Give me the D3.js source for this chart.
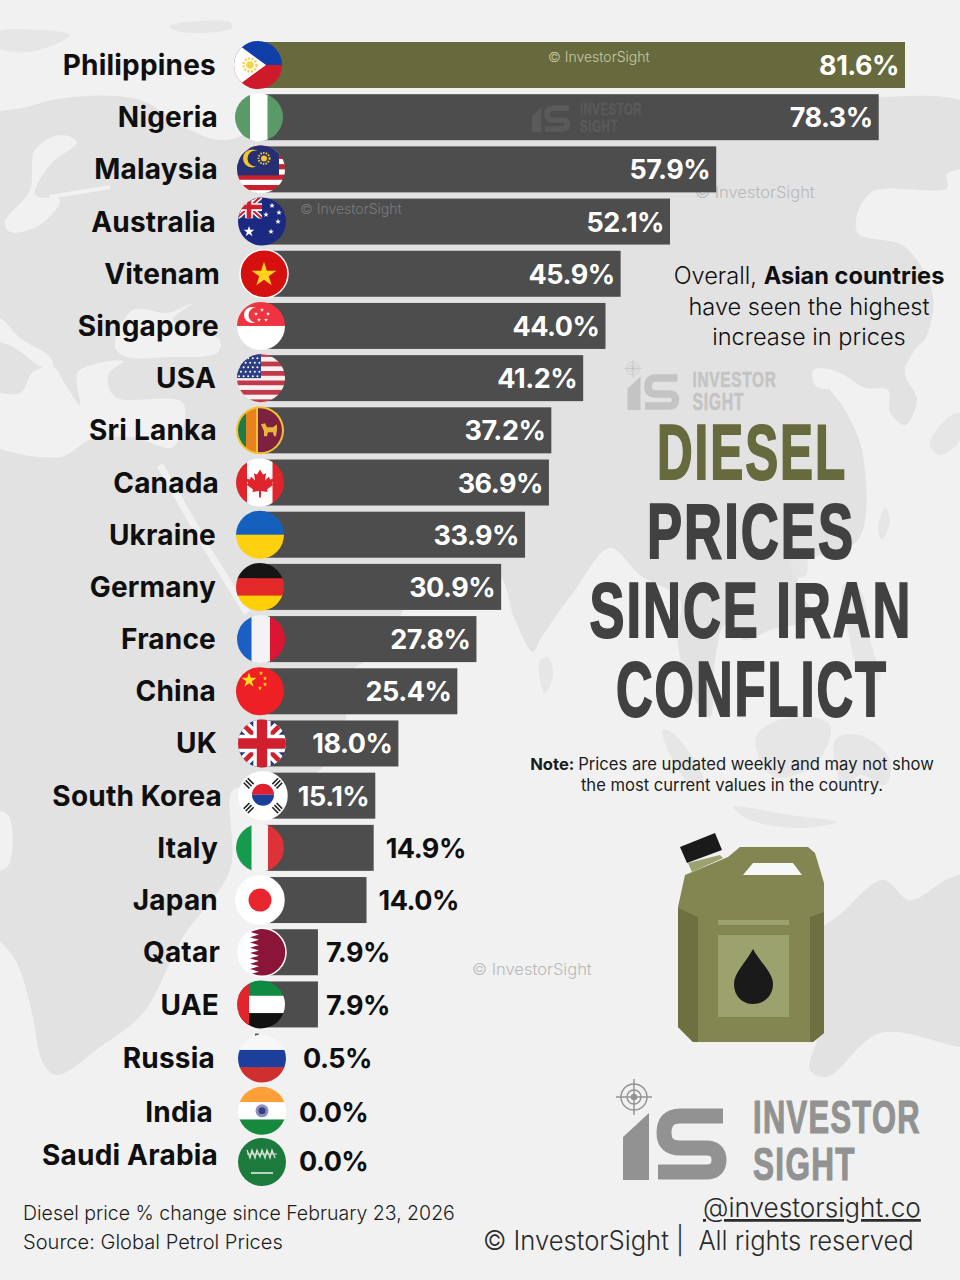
<!DOCTYPE html>
<html>
<head>
<meta charset="utf-8">
<title>Diesel prices since Iran conflict</title>
<script src="https://cdn.jsdelivr.net/npm/d3@7"></script>
<style>
  html, body { margin: 0; padding: 0; background: #f1f1f1; }
  svg { display: block; }
  text { font-family: Inter, "Noto Sans", sans-serif; }
</style>
</head>
<body>
<script>
// values
var countries = ["Philippines", "Nigeria", "Malaysia", "Australia", "Vitenam", "Singapore", "USA", "Sri Lanka",
  "Canada", "Ukraine", "Germany", "France", "China", "UK", "South Korea", "Italy", "Japan", "Qatar", "UAE",
  "Russia", "India", "Saudi Arabia"];
var changes = [81.6, 78.3, 57.9, 52.1, 45.9, 44.0, 41.2, 37.2, 36.9, 33.9, 30.9, 27.8, 25.4, 18.0, 15.1, 14.9,
  14.0, 7.9, 7.9, 0.5, 0.0, 0.0];

// the source lines up by hand, so rows are a few px off the grid: [dx, dy]
var flagNudge = {"Philippines": [-3, 0], "Nigeria": [-2, 0], "Australia": [1, 0], "Vitenam": [3, 0], "Sri Lanka": [-1, 0],
  "Canada": [-1, 0], "Ukraine": [-1, 0], "Germany": [-1, 0], "China": [-1, 0], "UK": [1, 0], "South Korea": [2, 0],
  "Italy": [-1, 0], "Japan": [-1, 0], "Qatar": [1, 0], "Russia": [1, 2], "India": [1, 2], "Saudi Arabia": [1, 1]};
var labelNudge = {"Philippines": [-2, 0], "Australia": [-2, 0], "Vitenam": [2, 0], "Singapore": [1, 0], "USA": [-2, 0],
  "Sri Lanka": [-1, 0], "Canada": [1, 0], "Ukraine": [-2, 0], "Germany": [-2, 0], "France": [-2, 0], "China": [-2, 0],
  "UK": [-1, 0], "South Korea": [4, 0], "Qatar": [2, 0], "UAE": [1, 1], "Russia": [-3, 1], "India": [-5, 3], "Saudi Arabia": [0, -6]};

var width = 960, height = 1280;
var barColor = "#4d4d4d", topColor = "#666a3c", darkText = "#414141", ink = "#0f0f0f";
var landColor = "#e2e2e2", seaColor = "#f1f1f1";
var narrowFont = "'Liberation Sans Narrow', 'Liberation Sans'";

var x = d3.scaleLinear().domain([0, 81.6]).range([255, 905]);
var y = d3.scalePoint().domain(countries).range([65, 1161]);
var barH = 46, flagX = 261, flagR = 24;

var svg = d3.select("body").append("svg")
  .attr("width", width)
  .attr("height", height);
svg.append("rect").attr("width", width).attr("height", height).attr("fill", seaColor);

// squeeze or stretch a text to a measured width, keeping it real text
function fit(t, px, py, len, anchorMid) {
  var k = len / t.node().getComputedTextLength();
  t.attr("text-anchor", anchorMid ? "middle" : "start")
    .attr("transform", "translate(" + px + "," + py + ") scale(" + k + ",1)");
  return t;
}

// ---- world map backdrop, traced roughly
var blob = d3.line().curve(d3.curveCatmullRomClosed.alpha(0.5));
var back = svg.append("g");
var land = [
  [[-20, 125], [27, 107], [73, 97], [140, 100], [190, 130], [225, 140], [300, 110], [450, 100], [600, 110], [740, 100], [850, 100],
   [880, 97], [980, 112], [980, 340], [950, 335], [925, 340], [905, 372], [917, 400], [905, 425], [890, 412], [888, 390], [865, 388],
   [838, 372], [815, 372], [830, 390], [845, 410], [863, 455], [858, 540], [803, 563], [798, 585], [812, 617], [770, 630], [745, 640],
   [725, 625], [715, 660], [710, 717], [690, 690], [677, 637], [680, 600], [640, 575], [610, 548], [575, 590], [540, 640], [533, 652],
   [515, 620], [497, 573], [430, 570], [380, 650], [300, 700], [345, 710], [320, 770], [260, 790], [233, 790], [230, 870], [183, 937],
   [143, 1013], [100, 1047], [57, 1075], [43, 1063], [32, 1013], [17, 963], [-20, 907]],
  // australia
  [[780, 960], [837, 917], [883, 880], [910, 900], [950, 878], [990, 870], [990, 1050], [960, 1047], [880, 1033], [827, 1077], [810, 1070], [820, 1020]]
];
var seas = [
  // mediterranean
  [[-20, 393], [20, 393], [33, 372], [53, 367], [67, 387], [80, 405], [78, 372], [123, 361], [108, 375], [115, 397], [183, 403], [173, 447], [133, 437], [90, 440], [60, 457], [-20, 437]],
  // adriatic
  [[-20, 316], [0, 318], [20, 338], [50, 357], [53, 367], [40, 366], [15, 348], [-20, 332]],
  // black sea
  [[115, 347], [133, 310], [167, 313], [193, 303], [173, 320], [220, 340], [217, 353], [167, 357], [127, 357]],
  // baltic
  [[10, 232], [40, 225], [60, 200], [35, 195], [50, 165], [77, 142], [60, 135], [35, 150], [30, 190], [5, 222]],
  // pacific side
  [[870, 193], [947, 188], [947, 174], [980, 174], [980, 420], [917, 378], [905, 370], [925, 340], [933, 296], [905, 247], [857, 232]],
  // bohai
  [[813, 370], [836, 372], [832, 388], [816, 386]],
  // west africa notch
  [[-10, 813], [8, 815], [8, 866], [-10, 870]]
];
var isles = [
  [[0, 32], [40, 30], [70, 35], [40, 50], [15, 52], [0, 48]],
  [[170, 26], [230, 22], [232, 28], [180, 32]],
  [[540, 660], [548, 657], [553, 675], [545, 693], [540, 680]],
  [[885, 508], [890, 520], [882, 540], [878, 528]],
  [[792, 560], [806, 558], [806, 575], [795, 577]],
  [[930, 445], [945, 420], [960, 413], [960, 440], [940, 455]],
  [[843, 585], [860, 590], [870, 640], [880, 680], [860, 670], [848, 630]],
  [[757, 735], [790, 717], [830, 725], [815, 765], [775, 777], [760, 760]],
  [[663, 730], [675, 735], [703, 780], [690, 783], [670, 755]],
  [[733, 807], [790, 815], [837, 822], [800, 828], [750, 820]],
  [[835, 740], [860, 735], [890, 760], [885, 785], [860, 775], [845, 790]]
];
back.selectAll(".land").data(land).enter().append("path")
  .attr("class", "land").attr("d", blob).attr("fill", landColor);
back.selectAll(".sea").data(seas).enter().append("path")
  .attr("class", "sea").attr("d", blob).attr("fill", seaColor);
back.selectAll(".isle").data(isles).enter().append("path")
  .attr("class", "isle").attr("d", blob).attr("fill", "#e6e6e6");
// red sea, gulf of finland
back.append("path").attr("d", d3.line()([[160, 465], [205, 545], [247, 613]]))
  .attr("fill", "none").attr("stroke", seaColor).attr("stroke-width", 7);
back.append("path").attr("d", d3.line()([[50, 197], [110, 187]]))
  .attr("fill", "none").attr("stroke", seaColor).attr("stroke-width", 4);

// ---- logo, drawn at the size of the big one
function drawLogo(tx, ty, k, color, target) {
  var g = svg.append("g").attr("transform", "translate(" + tx + "," + ty + ") scale(" + k + ")")
    .attr("fill", color);
  if (target) {
    var t = g.append("g").attr("transform", "translate(16,17)").attr("fill", "none").attr("stroke", color).attr("stroke-width", 1.4);
    t.append("circle").attr("r", 13);
    t.append("circle").attr("r", 7);
    t.append("path").attr("d", "M-18,0H18M0,-18V18");
    t.append("circle").attr("r", 2.5).attr("fill", color);
  }
  g.append("path").attr("d", "M5,100V57L31,33V100Z");
  g.append("path").attr("d", "M105,36H62Q46,36 46,53Q46,68 62,68H88Q101,68 101,80Q101,92 88,92H40")
    .attr("fill", "none").attr("stroke", color).attr("stroke-width", 15);
  [["INVESTOR", 53, 168], ["SIGHT", 100, 103]].forEach(function(r) {
    var w = g.append("text").text(r[0])
      .attr("stroke", color).attr("stroke-width", 1.2)
      .style("font-family", narrowFont).style("font-weight", 700).style("font-size", "46px").style("letter-spacing", "2px");
    fit(w, 135, r[1], r[2], false);
  });
}
drawLogo(625, 360, 0.5, "#c4c4c4", true);
drawLogo(618, 1080, 1, "#929292", true);

function watermark(px, py, size, color) {
  svg.append("text").text("\u00a9 InvestorSight").attr("x", px).attr("y", py)
    .attr("fill", color).style("font-size", size + "px").style("font-weight", 300);
}
watermark(695, 198, 16.5, "#b8b8b8");
watermark(472, 975, 16.5, "#b8b8b8");

// ---- bars
svg.selectAll(".bar").data(countries).enter().append("rect")
  .attr("class", "bar")
  .attr("x", x(0))
  .attr("y", function(d) { return y(d) - barH / 2; })
  .attr("width", function(d, i) { return x(changes[i]) - x(0); })
  .attr("height", barH)
  .attr("fill", function(d, i) { return i == 0 ? topColor : barColor; });

watermark(548, 62, 14, "#c9cba8");
watermark(300, 214, 14, "#7b7b7b");
drawLogo(530, 95, 0.37, "#5a5a5a", false);

// ---- value labels
var pct = d3.format(".1f");
svg.selectAll(".value").data(countries).enter().append("text")
  .attr("class", "value")
  .text(function(d, i) { return pct(changes[i]) + "%"; })
  .attr("x", function(d, i) {
    var v = changes[i];
    if (v > 15) return x(v) - 6;
    if (v < 1) return x(v) + 44;
    return x(v) + (v < 10 ? 8 : 12);
  })
  .attr("y", function(d) {
    var n = labelNudge[d];
    if (d == "Saudi Arabia") return y(d) + 10;
    return y(d) + 10 + (n ? n[1] : 0);
  })
  .attr("text-anchor", function(d, i) { return changes[i] > 15 ? "end" : "start"; })
  .attr("fill", function(d, i) { return changes[i] > 15 ? "#fff" : ink; })
  .style("font-size", "27px")
  .style("font-weight", 700)
  .style("letter-spacing", "-0.5px");

// ---- country names
svg.selectAll(".name").data(countries).enter().append("text")
  .attr("class", "name")
  .text(function(d) { return d; })
  .attr("x", function(d) { return 218 + (labelNudge[d] ? labelNudge[d][0] : 0); })
  .attr("y", function(d) { return y(d) + 10 + (labelNudge[d] ? labelNudge[d][1] : 0); })
  .attr("text-anchor", "end")
  .attr("fill", ink)
  .style("font-size", "28px")
  .style("font-weight", 700)
  .style("letter-spacing", "0.2px");

// ---- flags
var R = flagR + 2;
function band(g, x0, y0, w, h, c) {
  g.append("rect").attr("x", x0).attr("y", y0).attr("width", w).attr("height", h).attr("fill", c);
}
function rows(g, cols) {
  var h = 2 * R / cols.length;
  cols.forEach(function(c, i) { band(g, -R, -R + i * h, 2 * R, h + 0.5, c); });
}
function cols(g, list, w) {
  band(g, -R, -R, R - w / 2 + 0.5, 2 * R, list[0]);
  band(g, -w / 2, -R, w, 2 * R, list[1]);
  band(g, w / 2 - 0.5, -R, R - w / 2 + 0.5, 2 * R, list[2]);
}
function star(g, px, py, size, c) {
  g.append("path").attr("d", d3.symbol(d3.symbolStar, size)())
    .attr("transform", "translate(" + px + "," + py + ")").attr("fill", c);
}
function jack(g, w, h, tx, ty) {
  var j = g.append("g").attr("transform", "translate(" + tx + "," + ty + ")");
  var id = "jack" + Math.round(w);
  j.append("clipPath").attr("id", id).append("rect").attr("width", w).attr("height", h);
  j.attr("clip-path", "url(#" + id + ")");
  band(j, 0, 0, w, h, "#27387f");
  var u = h / 12;
  var diag = "M0,0L" + w + "," + h + "M0," + h + "L" + w + ",0";
  j.append("path").attr("d", diag).attr("stroke", "#fff").attr("stroke-width", 2.6 * u);
  j.append("path").attr("d", diag).attr("stroke", "#d02030").attr("stroke-width", 1.1 * u);
  var cross = "M" + w / 2 + ",0V" + h + "M0," + h / 2 + "H" + w;
  j.append("path").attr("d", cross).attr("stroke", "#fff").attr("stroke-width", 4 * u);
  j.append("path").attr("d", cross).attr("stroke", "#d02030").attr("stroke-width", 2.4 * u);
}

var flagDraw = {
  "Philippines": function(g) {
    rows(g, ["#0f3ea8", "#ce1a2b"]);
    g.append("path").attr("d", "M-26,-25L8,0L-26,25Z").attr("fill", "#fff");
    g.append("circle").attr("cx", -8).attr("r", 3.8).attr("fill", "#f4d24a");
    g.append("circle").attr("cx", -8).attr("r", 6.5).attr("fill", "none").attr("stroke", "#f4d24a").attr("stroke-width", 2.5).attr("stroke-dasharray", "2 1.5");
  },
  "Nigeria": function(g) { cols(g, ["#5a9a68", "#fff", "#5a9a68"], 18); },
  "Malaysia": function(g) {
    rows(g, ["#c9202e", "#fff", "#c9202e", "#fff", "#c9202e", "#fff", "#c9202e", "#fff", "#c9202e", "#fff"]);
    band(g, -R, -R, 44, 32, "#262f72");
    g.append("circle").attr("cx", -9).attr("cy", -11).attr("r", 9).attr("fill", "#f0c62c");
    g.append("circle").attr("cx", -5.5).attr("cy", -11).attr("r", 8).attr("fill", "#262f72");
    g.append("circle").attr("cx", 3).attr("cy", -11).attr("r", 3).attr("fill", "#f0c62c");
    g.append("circle").attr("cx", 3).attr("cy", -11).attr("r", 5.5).attr("fill", "none").attr("stroke", "#f0c62c").attr("stroke-width", 2).attr("stroke-dasharray", "1.5 1.2");
  },
  "Australia": function(g) {
    rows(g, ["#1b2a80"]);
    jack(g, 26, 23, -26, -26);
    star(g, -13, 10, 36, "#fff");
    [[10, -16], [17, -9], [4, -7], [9, 10], [16, 0]].forEach(function(p) { star(g, p[0], p[1], 10, "#fff"); });
  },
  "Vitenam": function(g) {
    rows(g, ["#d60f0f"]);
    star(g, 0, 1, 190, "#ffd21f");
  },
  "Singapore": function(g) {
    rows(g, ["#ef3340", "#fff"]);
    g.append("circle").attr("cx", -9).attr("cy", -11).attr("r", 8).attr("fill", "#fff");
    g.append("circle").attr("cx", -5).attr("cy", -11).attr("r", 7.5).attr("fill", "#ef3340");
    [[-1, -17], [5, -13], [3, -7], [-4, -7], [-7, -13]].forEach(function(p) { star(g, p[0] + 2, p[1] + 1, 5, "#fff"); });
  },
  "USA": function(g) {
    rows(g, ["#c23a4a", "#f7f0f0", "#c23a4a", "#f7f0f0", "#c23a4a", "#f7f0f0", "#c23a4a", "#f7f0f0", "#c23a4a", "#f7f0f0", "#c23a4a"]);
    band(g, -R, -R, 26, 26, "#2c3f82");
    d3.range(0, 5).forEach(function(r) { d3.range(0, 5).forEach(function(c) {
      g.append("circle").attr("cx", -22 + c * 4.6 + (r % 2) * 2).attr("cy", -20 + r * 4.5).attr("r", 1).attr("fill", "#fff");
    }); });
  },
  "Sri Lanka": function(g) {
    rows(g, ["#f2c230"]);
    var inner = g.append("g");
    inner.append("clipPath").attr("id", "lk").append("circle").attr("r", 22);
    inner.attr("clip-path", "url(#lk)");
    band(inner, -24, -24, 10, 48, "#1e7a46");
    band(inner, -14, -24, 10, 48, "#e8821e");
    band(inner, -4, -24, 2, 48, "#f2c230");
    band(inner, -2, -24, 26, 48, "#7c2240");
    inner.append("path").attr("d", "M1,-6L5,-7L7,-3L13,-3L17,-6L17,-1L16,6H14L13,2H8L7,6H4L4,1Z").attr("fill", "#e8b53a");
  },
  "Canada": function(g) {
    cols(g, ["#e0242c", "#fff", "#e0242c"], 26);
    g.append("path").attr("fill", "#e0242c")
      .attr("d", "M0,-13L3,-8L6,-9L5,-2L9,-6L10,-3L14,-4L12,1L13.5,2L7,7L7.5,9.5L1,8.5V15H-1V8.5L-7.5,9.5L-7,7L-13.5,2L-12,1L-14,-4L-10,-3L-9,-6L-5,-2L-6,-9L-3,-8Z");
  },
  "Ukraine": function(g) { rows(g, ["#1560bd", "#ffd00f"]); },
  "Germany": function(g) { rows(g, ["#151515", "#e3282a", "#ffcf0a"]); },
  "France": function(g) { cols(g, ["#1b5fc4", "#f3f3f3", "#dd1535"], 19); },
  "China": function(g) {
    rows(g, ["#ee2024"]);
    star(g, -11, -11, 70, "#ffdd1f");
    [[1, -18], [5, -13], [5, -7], [0, -3]].forEach(function(p) { star(g, p[0], p[1], 6, "#ffdd1f"); });
  },
  "UK": function(g) { jack(g, 52, 52, -26, -26); },
  "South Korea": function(g) {
    rows(g, ["#fff"]);
    g.append("path").attr("d", "M-11,-1A11,11 0 0 1 11,-1Z").attr("fill", "#e0202f");
    g.append("path").attr("d", "M-11,-1A11,11 0 0 0 11,-1Z").attr("fill", "#1a3f9a");
    [[-15, -13, 45], [15, -13, -45], [-15, 13, -45], [15, 13, 45]].forEach(function(p) {
      g.append("path").attr("d", "M-5,-3H5M-5,0H5M-5,3H5").attr("stroke", "#222").attr("stroke-width", 1.6)
        .attr("transform", "translate(" + p[0] + "," + p[1] + ") rotate(" + p[2] + ")");
    });
  },
  "Italy": function(g) { cols(g, ["#169a4d", "#f4f4f4", "#dc3238"], 17); },
  "Japan": function(g) {
    rows(g, ["#fff"]);
    g.append("circle").attr("r", 11.5).attr("fill", "#e9262e");
  },
  "Qatar": function(g) {
    rows(g, ["#fff"]);
    var pts = [[26, -26], [-12, -26]];
    d3.range(0, 9).forEach(function(i) {
      pts.push([-3, -23 + i * 5.3], [-12, -20.4 + i * 5.3]);
    });
    pts.push([-12, 26], [26, 26]);
    g.append("path").attr("d", d3.line()(pts) + "Z").attr("fill", "#8a1538");
  },
  "UAE": function(g) {
    rows(g, ["#0f8a43", "#fff", "#111"]);
    band(g, -R, -R, 14, 2 * R, "#e2242c");
  },
  "Russia": function(g) { rows(g, ["#f7f7f7", "#1c3f9c", "#cf2f2f"]); },
  "India": function(g) {
    rows(g, ["#ff9f3a", "#fff", "#17893c"]);
    g.append("circle").attr("r", 6.5).attr("fill", "#8a8fc0");
    g.append("circle").attr("r", 3.5).attr("fill", "#33407f");
  },
  "Saudi Arabia": function(g) {
    rows(g, ["#1d7a3d"]);
    g.append("path").attr("fill", "none").attr("stroke", "#dfe8dc").attr("stroke-width", 1.2)
      .attr("d", "M-15,-12l3,8l2,-8l3,8l2,-8l3,7l2,-7l3,8l2,-8l3,8l2,-8l3,8M-15,-8h30");
    g.append("path").attr("d", "M-11,11H11").attr("stroke", "#eef3ec").attr("stroke-width", 1.3);
  }
};

svg.selectAll(".flag").data(countries).enter().append("g")
  .attr("class", "flag")
  .attr("transform", function(d) {
    var n = flagNudge[d] || [0, 0];
    return "translate(" + (flagX + n[0]) + "," + (y(d) + n[1]) + ")";
  })
  .each(function(d, i) {
    var g = d3.select(this);
    var id = "flag" + i;
    g.append("clipPath").attr("id", id).append("circle").attr("r", flagR);
    var inner = g.append("g").attr("clip-path", "url(#" + id + ")");
    flagDraw[d](inner);
  });
// white ring round the flags that have one
["Vitenam", "South Korea", "Japan", "Qatar"].forEach(function(d) {
  var n = flagNudge[d] || [0, 0];
  svg.append("circle").attr("cx", flagX + n[0]).attr("cy", y(d) + n[1]).attr("r", flagR)
    .attr("fill", "none").attr("stroke", "#fff").attr("stroke-width", 1.5);
});

// ---- right hand text
function line(str, px, py, size, weight, color) {
  return svg.append("text").text(str).attr("x", px).attr("y", py)
    .attr("fill", color).attr("text-anchor", "middle")
    .style("font-size", size + "px").style("font-weight", weight);
}

var overall = svg.append("text").attr("x", 809).attr("y", 284).attr("text-anchor", "middle")
  .attr("fill", ink).style("font-size", "23.6px");
overall.append("tspan").text("Overall, ").style("font-weight", 300);
overall.append("tspan").text("Asian countries").style("font-weight", 700);
line("have seen the highest", 809, 315, 23.6, 300, ink);
line("increase in prices", 809, 345, 23.6, 300, ink);

[["DIESEL", 752, 479, topColor, 190], ["PRICES", 751, 558, darkText, 208],
 ["SINCE IRAN", 751, 637, darkText, 323], ["CONFLICT", 752, 716, darkText, 272]].forEach(function(r) {
  var t = svg.append("text").text(r[0]).attr("fill", r[3])
    .attr("stroke", r[3]).attr("stroke-width", 2)
    .style("font-family", narrowFont).style("font-weight", 700).style("font-size", "78px").style("letter-spacing", "3px");
  fit(t, r[1], r[2], r[4], true);
});

var note = svg.append("text").attr("x", 732).attr("y", 770).attr("text-anchor", "middle")
  .attr("fill", "#1c1c1c").style("font-size", "16.6px");
note.append("tspan").text("Note: ").style("font-weight", 700);
note.append("tspan").text("Prices are updated weekly and may not show").style("font-weight", 400);
line("the most current values in the country.", 732, 791, 16.6, 400, "#1c1c1c");

// ---- jerrycan
var can = svg.append("g");
function poly(pts, c) { can.append("path").attr("d", d3.line()(pts) + "Z").attr("fill", c); }
poly([[688, 863], [720, 855], [723, 858], [692, 872]], "#9ca26e");
poly([[680, 847], [715, 833], [722, 850], [687, 863]], "#1a1a1a");
poly([[678, 907], [685, 875], [728, 857], [740, 847], [808, 847], [815, 853], [824, 883], [824, 1033], [813, 1042], [693, 1042], [678, 1027]], "#838650");
poly([[678, 908], [698, 917], [698, 1042], [693, 1042], [678, 1027]], "#6d7040");
poly([[824, 912], [810, 917], [810, 1042], [813, 1042], [824, 1033]], "#6d7040");
poly([[743, 875], [802, 875], [793, 863], [753, 863]], "#f7f7f7");
poly([[718, 920], [789, 920], [789, 925], [718, 925]], "#9ca26e");
poly([[718, 935], [789, 935], [789, 1017], [718, 1017]], "#9ca26e");
can.append("path").attr("d", "M753,949C760,962 773,973 773,984C773,996 764,1004 753,1004C742,1004 734,996 734,984C734,973 746,962 753,949Z").attr("fill", "#1a1a1a");

// ---- footer
function foot(str, px, py, len, size, color) {
  var t = svg.append("text").text(str).attr("fill", color)
    .attr("xml:space", "preserve").style("white-space", "pre")
    .style("font-size", size + "px").style("font-weight", 300);
  return fit(t, px, py, len, false);
}
foot("Diesel price % change since February 23, 2026", 23, 1220, 432, 20, "#1c1c1c");
foot("Source: Global Petrol Prices", 23, 1249, 260, 20, "#1c1c1c");
foot("@investorsight.co", 703, 1217, 218, 27, "#2a2a2a").attr("text-decoration", "underline");
foot("\u00a9 InvestorSight |  All rights reserved", 483, 1250, 431, 27, "#2a2a2a");
</script>
</body>
</html>
